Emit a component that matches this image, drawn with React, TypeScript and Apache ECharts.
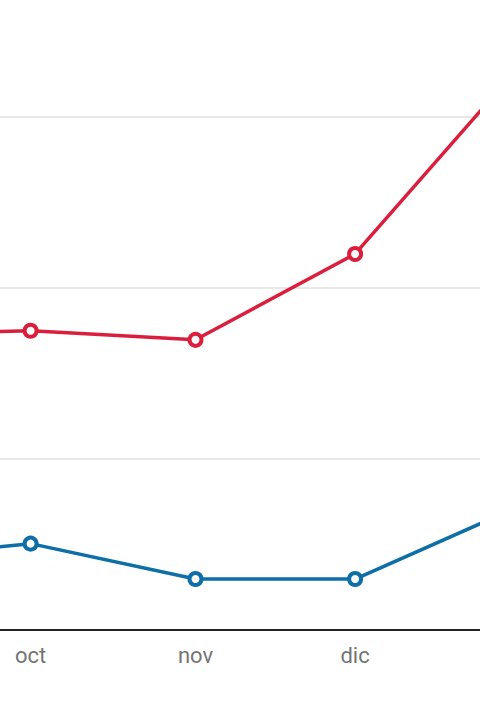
import React, { useEffect, useRef } from "react";
import * as echarts from "echarts";

const dates = ["2023-09-01", "2023-10-01", "2023-11-01", "2023-12-01", "2024-01-01"];
const monthLabels = ["ene", "feb", "mar", "abr", "may", "jun", "jul", "ago", "sep", "oct", "nov", "dic"];
const redValues = [17.3, 17.5, 16.97, 21.99, 33.0];
const blueValues = [4.1, 5.05, 2.98, 2.98, 7.25];
const yTicks = [0, 10, 20, 30, 40];

export default function App() {
  const ref = useRef<HTMLDivElement>(null);
  useEffect(() => {
    document.body.style.margin = "0";
    const chart = echarts.init(ref.current!, null, { renderer: "svg" });
    const toTime = (s: string) => {
      const [y, m, d] = s.split("-").map(Number);
      return new Date(y, m - 1, d).getTime();
    };
    chart.setOption({
      animation: false,
      grid: { left: 0, right: 0, top: 0, bottom: 90, containLabel: false, outerBoundsMode: "none" },
      xAxis: {
        type: "time",
        min: toTime(dates[0]),
        max: toTime(dates[dates.length - 1]),
        splitNumber: 4,
        axisLine: { show: true, lineStyle: { color: "#222222", width: 2 } },
        axisTick: { show: false },
        axisLabel: {
          color: "#757575",
          fontSize: 22,
          fontFamily: "Roboto",
          margin: 14,
          hideOverlap: false,
          showMinLabel: false,
          showMaxLabel: false,
          formatter: (v: number) => {
            const d = new Date(v);
            return d.getDate() === 1 ? monthLabels[d.getMonth()] : "";
          },
        },
        splitLine: { show: false },
      },
      yAxis: {
        type: "value",
        min: yTicks[0],
        max: yTicks[yTicks.length - 1],
        interval: 10,
        axisLine: { show: false },
        axisTick: { show: false },
        axisLabel: { show: false },
        splitLine: { show: true, lineStyle: { color: "#e0e0e0", width: 1.5 } },
      },
      series: [
        {
          type: "line",
          data: dates.map((d, i) => [toTime(d), redValues[i]]),
          symbol: "circle",
          symbolSize: 12,
          showAllSymbol: true,
          lineStyle: { color: "#dc1e3d", width: 3.5 },
          itemStyle: { color: "#ffffff", borderColor: "#dc1e3d", borderWidth: 4 },
        },
        {
          type: "line",
          data: dates.map((d, i) => [toTime(d), blueValues[i]]),
          symbol: "circle",
          symbolSize: 12,
          showAllSymbol: true,
          lineStyle: { color: "#0e6ea8", width: 3.5 },
          itemStyle: { color: "#ffffff", borderColor: "#0e6ea8", borderWidth: 4 },
        },
      ],
    });
    return () => chart.dispose();
  }, []);
  return (
    <div style={{ width: 480, height: 720, overflow: "hidden", position: "relative", background: "#ffffff" }}>
      <div ref={ref} style={{ position: "absolute", left: -129, top: -54, width: 649, height: 774 }} />
    </div>
  );
}
